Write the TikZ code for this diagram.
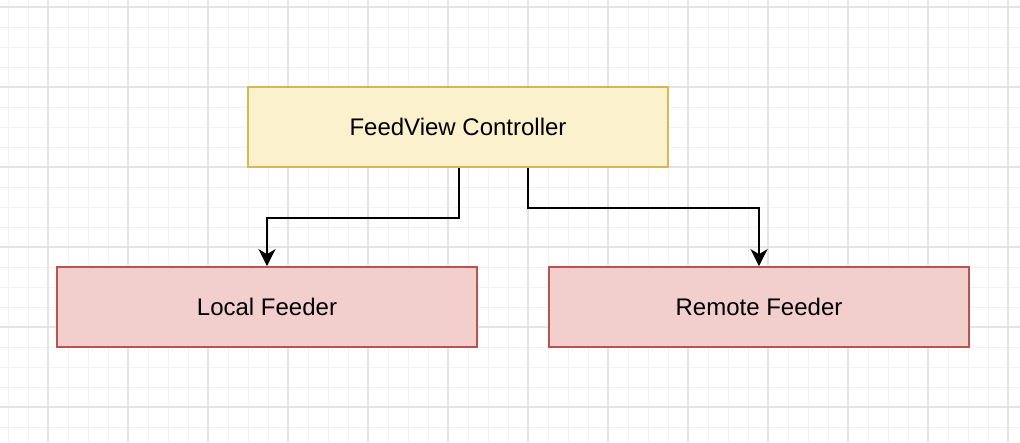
\documentclass[tikz,border=0pt]{standalone}
\usepackage{fontspec}
\setmainfont{Liberation Sans}
\usetikzlibrary{arrows.meta}
\definecolor{gridminor}{HTML}{F2F2F2}
\definecolor{gridmajor}{HTML}{E4E4E4}
\definecolor{yfill}{HTML}{FBF1CD}
\definecolor{ydraw}{HTML}{D6B656}
\definecolor{rfill}{HTML}{F2CFCD}
\definecolor{rdraw}{HTML}{B85450}
\tikzset{
  box/.style={rectangle, minimum width=420pt, minimum height=80pt, line width=1.7pt,
    font=\fontsize{24}{28}\selectfont, text=black, inner sep=0pt},
  ctrlbox/.style={box, fill=yfill, draw=ydraw},
  feedbox/.style={box, fill=rfill, draw=rdraw},
  conn/.style={line width=2pt, black, -{Stealth[length=17pt,width=17pt,inset=5pt]}},
}
\begin{document}
\begin{tikzpicture}[x=1pt,y=-1pt]
\fill[white] (0,0) rectangle (1020,442);
\useasboundingbox (0,0) rectangle (1020,442);
% grid
\foreach \i in {0,...,50} {
  \draw[gridminor, line width=1pt] ({8+20*\i},0) -- ({8+20*\i},442);
}
\foreach \j in {0,...,22} {
  \draw[gridminor, line width=1pt] (0,{7+20*\j}) -- (1020,{7+20*\j});
}
\foreach \i in {0,...,12} {
  \draw[gridmajor, line width=1.1pt] ({48+80*\i},0) -- ({48+80*\i},442);
}
\foreach \j in {0,...,5} {
  \draw[gridmajor, line width=1.1pt] (0,{7+80*\j}) -- (1020,{7+80*\j});
}
% nodes
\node[ctrlbox] (ctrl) at (458,127) {FeedView Controller};
\node[feedbox] (local) at (267,307) {Local Feeder};
\node[feedbox] (remote) at (759,307) {Remote Feeder};
% connectors
\coordinate (s1) at ([xshift=1pt]ctrl.south);
\coordinate (s2) at ([xshift=70pt]ctrl.south);
\draw[conn] (s1) -- ++(0,50) -| (local.north);
\draw[conn] (s2) -- ++(0,40) -| (remote.north);
\end{tikzpicture}
\end{document}
